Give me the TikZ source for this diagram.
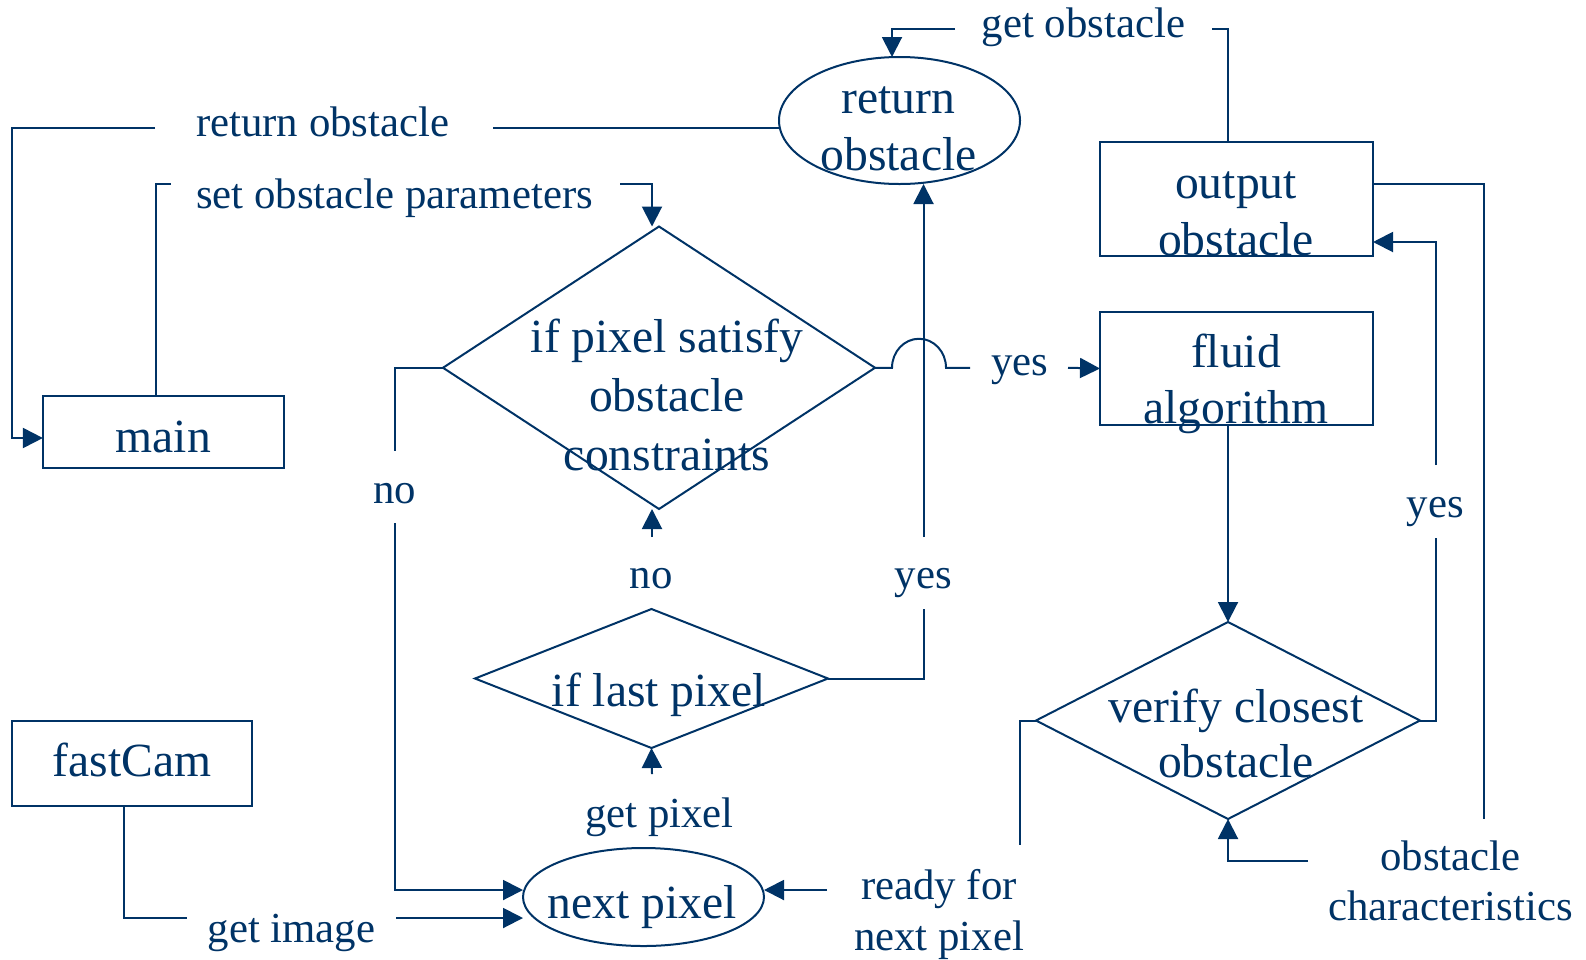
\documentclass[tikz,border=0pt]{standalone}
\usepackage{fontspec}
\setmainfont{Liberation Serif}
\usetikzlibrary{shapes.geometric,arrows.meta}
\definecolor{navy}{RGB}{0,51,102}
\begin{document}
\begin{tikzpicture}[x=1pt,y=-1pt,
  shp/.style={draw=navy,line width=2pt,inner sep=0pt,outer sep=0pt},
  box/.style={shp,rectangle},
  oval/.style={shp,ellipse},
  decision/.style={shp,diamond},
  ntext/.style={anchor=base,inner sep=0pt,text=navy,font=\fontsize{47.6}{57}\selectfont},
  ltext/.style={anchor=base,inner sep=0pt,text=navy,font=\fontsize{42.8}{51}\selectfont},
  conn/.style={draw=navy,line width=2pt},
  arr/.style={conn,-{Triangle[length=20pt,width=20pt]}}]
\useasboundingbox (0,0) rectangle (1586,959);

% ---- shapes ----
\node[oval,minimum width=241,minimum height=127] (ret) at (899.5,120.5) {};
\node[box,minimum width=273,minimum height=114] (out) at (1236.5,199) {};
\node[box,minimum width=273,minimum height=113] (fl) at (1236.5,368.5) {};
\node[box,minimum width=241,minimum height=72] (main) at (163.4,431.7) {};
\node[box,minimum width=240,minimum height=85] (fc) at (132,763.4) {};
\node[decision,minimum width=432,minimum height=282.5] (d1) at (659,367.75) {};
\node[decision,minimum width=353,minimum height=139] (d2) at (651.5,678.5) {};
\node[decision,minimum width=384,minimum height=197] (d3) at (1228,720.5) {};
\node[oval,minimum width=241,minimum height=98] (np) at (643.5,897) {};

% ---- connector corners and gap ends ----
\coordinate (goC) at (1228,29);  \coordinate (goR) at (1212,29);
\coordinate (goL) at (955,29);   \coordinate (goA) at (892,29);
\coordinate (roR) at (492.6,127.5); \coordinate (roL) at (155,127.5);
\coordinate (roC) at (11.7,127.5);
\coordinate (soC) at (155.7,184.3); \coordinate (soL) at (170.7,184.3);
\coordinate (soR) at (620,184.3);   \coordinate (soA) at (652,184.3);
\coordinate (y1L) at (970,367.75); \coordinate (y1R) at (1068,367.75);
\coordinate (y2B) at (923.5,609);   \coordinate (y2T) at (923.5,537);
\coordinate (n2T) at (652,537);
\coordinate (n1T) at (395,451);     \coordinate (n1B) at (395,523);
\coordinate (gpT) at (652,774);
\coordinate (y3B) at (1436,538);    \coordinate (y3T) at (1436,465);
\coordinate (ocT) at (1484,819);    \coordinate (ocR) at (1308,861);
\coordinate (rfB) at (1020,845);    \coordinate (rfR) at (827,890);
\coordinate (giC) at (124,918);     \coordinate (giL) at (187,918);
\coordinate (giR) at (396,918);

% ---- connectors ----
% get obstacle
\draw[conn] (out.north -| goC) -- (goC) -- (goR);
\draw[arr] (goL) -- (goA) -- (ret.north -| goA);
% return obstacle
\draw[conn] ([yshift=-7pt]ret.west) -- (roR);
\draw[arr] (roL) -- (roC) |- ([yshift=-6.3pt]main.west);
% set obstacle parameters
\draw[conn] (main.north -| soC) -- (soC) -- (soL);
\draw[arr] (soR) -- (soA) -- (d1.north -| soA);
% yes: decision to fluid algorithm, hopping over the vertical line
\draw[conn] (d1.east) -- ++(17,0) arc[start angle=180,end angle=0,x radius=27pt,y radius=29pt] -- (y1L);
\draw[arr] (y1R) -- (fl.west);
% yes: last pixel to return obstacle
\draw[conn] (d2.east) -| (y2B);
\draw[arr] (y2T) -- (ret.south -| y2T);
% no: last pixel back to first decision
\draw[arr] (n2T) -- (d1.south -| n2T);
% no: first decision to next pixel
\draw[conn] (d1.west) -| (n1T);
\draw[arr] (n1B) |- ([yshift=7pt]np.west);
% get pixel
\draw[arr] (gpT) -- (d2.south);
% fluid algorithm to verification
\draw[arr] (fl.south -| d3.north) -- (d3.north);
% yes: verification to output
\draw[conn] (d3.east) -| (y3B);
\draw[arr] (y3T) |- ([yshift=-43pt]out.east);
% obstacle characteristics
\draw[conn] ([yshift=15pt]out.east) -| (ocT);
\draw[arr] (ocR) -| (d3.south);
% ready for next pixel
\draw[conn] (d3.west) -| (rfB);
\draw[arr] (rfR) -- ([yshift=7pt]np.east);
% get image
\draw[conn] (fc.south -| giC) -- (giC) -- (giL);
\draw[arr] (giR) -- ([yshift=-21pt]np.west);

% ---- node texts ----
\node[ntext] (ret1) at (898.5,113) {return};
\node[ntext] (ret2) at (898.5,170) {obstacle};
\node[ntext] (out1) at (1236,198) {output};
\node[ntext] (out2) at (1236,255) {obstacle};
\node[ntext] (fl1) at (1236,367) {fluid};
\node[ntext] (fl2) at (1236,423) {algorithm};
\node[ntext] (mainT) at (163.4,452) {main};
\node[ntext] (fcT) at (132,776) {fastCam};
\node[ntext] (d1a) at (667,352.5) {if pixel satisfy};
\node[ntext] (d1b) at (667,411) {obstacle};
\node[ntext] (d1c) at (667,470) {constraints};
\node[ntext] (d2a) at (659,706) {if last pixel};
\node[ntext] (d3a) at (1236,722) {verify closest};
\node[ntext] (d3b) at (1236,777) {obstacle};
\node[ntext] (npT) at (642.5,918) {next pixel};

% ---- connector labels ----
\node[ltext] (lgo) at (1083.5,37) {get obstacle};
\node[ltext] (lro) at (322.7,136.5) {return obstacle};
\node[ltext] (lso) at (394.5,208) {set obstacle parameters};
\node[ltext] (ly1) at (1020,375) {yes};
\node[ltext] (ln1) at (394.5,503) {no};
\node[ltext] (ln2) at (651,588) {no};
\node[ltext] (ly2) at (923.5,588) {yes};
\node[ltext] (ly3) at (1435.5,517) {yes};
\node[ltext] (lgp) at (659.5,827) {get pixel};
\node[ltext] (lrf1) at (939,899) {ready for};
\node[ltext] (lrf2) at (939,950) {next pixel};
\node[ltext] (loc1) at (1450.5,870) {obstacle};
\node[ltext] (loc2) at (1450.5,920) {characteristics};
\node[ltext] (lgi) at (291.5,942) {get image};
\end{tikzpicture}
\end{document}
